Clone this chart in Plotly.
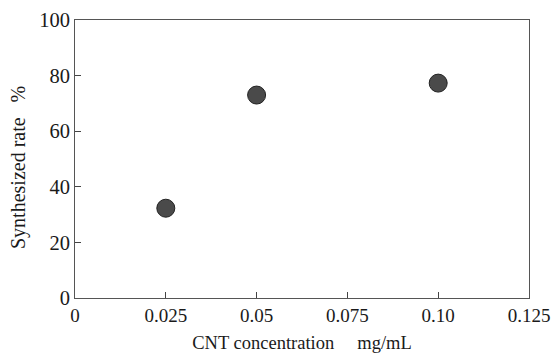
import plotly.graph_objects as go

cnt_conc = [0.025, 0.05, 0.10]
synth_rate = [32.3, 73.0, 77.3]
x_ticks = [0, 0.025, 0.05, 0.075, 0.10, 0.125]
x_tick_labels = ["0", "0.025", "0.05", "0.075", "0.10", "0.125"]
y_ticks = [0, 20, 40, 60, 80, 100]

fig = go.Figure()
fig.add_trace(go.Scatter(
    x=cnt_conc, y=synth_rate, mode="markers",
    marker=dict(size=18, color="#4a4a4a", line=dict(color="#222222", width=1)),
    showlegend=False, cliponaxis=False,
))

font = dict(family="Liberation Serif, Times New Roman, serif", color="#1a1a1a")

fig.update_layout(
    width=553, height=353,
    margin=dict(l=75, r=24, t=20, b=55),
    paper_bgcolor="white", plot_bgcolor="white",
    font=dict(size=19, **font),
    xaxis=dict(
        range=[0, 0.125], tickvals=x_ticks, ticktext=x_tick_labels,
        ticks="inside", ticklen=6, tickcolor="#444", showgrid=False, zeroline=False,
        showline=True, linecolor="#555", linewidth=1, mirror=True,
        tickfont=dict(size=19, **font), automargin=False,
        title=dict(text="CNT concentration\u2003 mg/mL", font=dict(size=18.5, **font), standoff=11),
    ),
    yaxis=dict(
        range=[0, 100], tickvals=y_ticks,
        ticks="inside", ticklen=6, tickcolor="#444", showgrid=False, zeroline=False,
        showline=True, linecolor="#555", linewidth=1, mirror=True,
        tickfont=dict(size=20.5, **font), automargin=False,
    ),
    annotations=[dict(
        text="Synthesized rate\u00a0\u00a0\u00a0%", textangle=-90,
        xref="paper", yref="paper", x=0, y=0.5, xanchor="center", yanchor="middle",
        xshift=-57, yshift=-9, showarrow=False, font=dict(size=20, **font),
    )],
)

fig.write_html("out.html", config={"displayModeBar": False},
               post_script="document.body.style.margin='0';document.body.style.overflow='hidden';")
